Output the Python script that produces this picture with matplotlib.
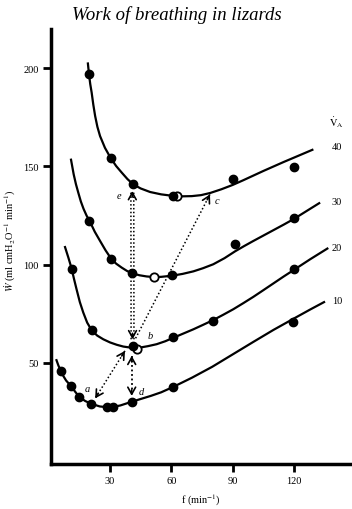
import matplotlib
matplotlib.use('Agg')
import matplotlib.pyplot as plt
import numpy as np

plt.rcParams['font.family'] = ['Liberation Serif', 'DejaVu Serif']
plt.rcParams['mathtext.fontset'] = 'stix'

# ---------------- data ----------------
va_labels = ['10', '20', '30', '40']

fit10_f = [3.6, 4.7, 5.9, 7.2, 8.5, 10.8, 13, 15, 17.8, 20.7, 25, 30, 35, 40.6, 45, 50, 55, 61, 70, 80, 90, 100, 110, 120, 128, 135.2]
fit10_w = [51.9, 48.7, 45.9, 43.2, 41, 38.3, 35.2, 32.6, 30.6, 29.2, 27.8, 27.3, 28.3, 30.2, 31.6, 33.2, 35, 37.8, 42.4, 48, 54.3, 60.6, 66.8, 72.6, 77.2, 81.2]
pts10_f = [5.9, 10.8, 15, 20.7, 28.5, 31.3, 40.6, 61, 119.7]
pts10_w = [45.9, 38.3, 32.6, 29.2, 27.3, 27.3, 30.2, 37.8, 70.9]

fit20_f = [7.8, 9.6, 11.2, 12.3, 13.6, 15.2, 16.9, 18.8, 21, 23.7, 26.7, 30, 33.3, 36.5, 39.8, 44.7, 48.5, 52.8, 57, 61, 65.8, 70.8, 75.6, 80.5, 85.4, 90.3, 95.2, 100.1, 105, 110, 115, 120.2, 128, 136.8]
fit20_w = [109.5, 103.6, 98, 93, 87.5, 81, 75.6, 70.5, 66.6, 63.9, 62, 60.4, 59.2, 58.3, 57.8, 57.8, 58.5, 59.5, 61, 62.8, 64.9, 67.1, 69.4, 71.8, 74.5, 77.3, 80.4, 83.6, 87, 90.5, 94, 97.5, 102.8, 108.5]
pts20_f = [11.2, 21, 41.4, 61, 80.5, 120.2]
pts20_w = [98, 66.6, 58.7, 63.4, 71.4, 98]
open20_f = [43.3]
open20_w = [57.3]

fit30_f = [10.8, 11.5, 12.2, 13.3, 14.5, 15.7, 17, 18.5, 20.2, 22.5, 25.1, 27.8, 30.5, 33, 35.7, 38.3, 40.9, 44.4, 47.9, 51.5, 55, 60.5, 65.5, 70.8, 75.5, 80.5, 86, 91.2, 95.5, 100, 105, 110, 115, 120, 126, 132.8]
fit30_w = [154, 150, 146, 141, 136.5, 132.2, 128.5, 125, 121.8, 116.8, 112.1, 107.3, 103.1, 100.5, 98.5, 96.8, 95.6, 94.6, 94, 93.7, 93.8, 94.4, 95.3, 96.6, 98.2, 100.2, 103.3, 106.8, 109.4, 112, 114.8, 117.6, 120.4, 123.3, 127.2, 131.6]
pts30_f = [19.9, 30.5, 40.9, 60.5, 91.2, 120]
pts30_w = [122.2, 103.1, 95.6, 94.6, 110.4, 123.6]
open30_f = [51.7]
open30_w = [93.8]

fit40_f = [19.1, 19.7, 20.3, 21, 21.8, 22.7, 23.8, 25.1, 27.5, 30.3, 33, 35.7, 38.5, 41.3, 45, 49.6, 55, 61, 65.5, 70, 74.5, 79, 84.5, 90, 95, 100, 105, 110, 115, 120, 129.5]
fit40_w = [203, 196.9, 192, 187.6, 181.5, 175.7, 170.2, 165.5, 159.5, 154.3, 150.2, 146.9, 143.6, 140.9, 138.8, 137, 135.8, 135, 134.8, 134.9, 135.4, 136.5, 138.4, 140.6, 142.9, 145.3, 147.7, 150, 152.3, 154.5, 158.7]
pts40_f = [19.7, 30.3, 41.3, 61, 90.3, 120.2]
pts40_w = [196.9, 154.3, 140.9, 135, 143.8, 149.9]
open40_f = [62.6]
open40_w = [135]

# transitions between states (f, W)
point_a = (22.7, 31.9)
point_b = (41.0, 60.0)
point_c = (78.9, 135.8)
point_d = (40.6, 33.2)
point_e = (40.9, 137.5)

# ---------------- figure ----------------
fig = plt.figure(figsize=(3.52, 5.10), dpi=100)
ax = fig.add_axes([51/352, 45/510, 301/352, 435/510])
ax.set_xlim(1.1, 148.4)
ax.set_ylim(-1.5, 220)

lw = 1.6
for ff, ww in [(fit10_f, fit10_w), (fit20_f, fit20_w), (fit30_f, fit30_w), (fit40_f, fit40_w)]:
    ax.plot(ff, ww, color='black', lw=lw, solid_capstyle='butt', solid_joinstyle='round', zorder=2)

for of, ow in [(open20_f, open20_w), (open30_f, open30_w), (open40_f, open40_w)]:
    ax.plot(of, ow, 'o', ms=6, mfc='white', mec='black', mew=1.3, zorder=3)
for pf, pw in [(pts10_f, pts10_w), (pts20_f, pts20_w), (pts30_f, pts30_w), (pts40_f, pts40_w)]:
    ax.plot(pf, pw, 'o', ms=6, color='black', zorder=4)

# dotted transition lines with open arrowheads
def head(tip, frm):
    p1 = ax.transData.transform(tip)
    p0 = ax.transData.transform(frm)
    d = p1 - p0
    d = d / np.hypot(*d)
    off = -d * 6 * 72 / fig.dpi
    ax.annotate('', xy=tip, xytext=(off[0], off[1]), textcoords='offset points',
                arrowprops=dict(arrowstyle='->,head_length=0.5,head_width=0.28',
                                lw=1.2, color='black', shrinkA=0, shrinkB=0), zorder=5)

def dotted(p, q, lw_=1.1):
    ax.plot([p[0], q[0]], [p[1], q[1]], color='black', lw=lw_, ls=(0, (1, 1.5)), zorder=5)

# b <-> e (two parallel lines)
dotted((point_b[0] - 0.7, point_b[1] + 2), (point_e[0] - 0.7, point_e[1]))
dotted((point_b[0] + 0.7, point_b[1] + 2), (point_e[0] + 0.7, point_e[1]))
head(point_e, (point_e[0], point_b[1]))
head((point_b[0], point_b[1] + 2), (point_b[0], point_e[1]))
# b -> c
bc0 = (point_b[0] + 1.5, point_b[1] + 2.5)
dotted(bc0, point_c)
head(point_c, bc0)
# b <-> a
ba0 = (point_b[0] - 3.7, point_b[1] - 3.9)
dotted(ba0, point_a)
head(point_a, ba0)
head(ba0, point_a)
# b <-> d
bd0 = (point_d[0], point_b[1] - 6.4)
dotted(bd0, point_d, 1.3)
head(point_d, bd0)
head(bd0, point_d)

lab = dict(fontsize=7.5, style='italic', ha='center', va='center')
ax.text(19.0, 37.0, 'a', **lab)
ax.text(49.6, 63.7, 'b', **lab)
ax.text(82.4, 132.5, 'c', **lab)
ax.text(45.5, 35.3, 'd', **lab)
ax.text(34.6, 135.0, 'e', **lab)

# curve labels
ax.text(141, 173, r'$\dot{\mathrm{V}}_{\mathrm{A}}$', fontsize=7.5, ha='center', va='center')
for txt, yy in zip(va_labels, [81.9, 108.7, 132.4, 160.2]):
    ax.text(141, yy, txt, fontsize=7.5, ha='center', va='center')

# axes styling
for s in ['top', 'right']:
    ax.spines[s].set_visible(False)
for s in ['left', 'bottom']:
    ax.spines[s].set_linewidth(2.5)
ax.set_xticks([30, 60, 90, 120])
ax.set_yticks([50, 100, 150, 200])
ax.tick_params(direction='out', length=6, width=2, labelsize=7.5, pad=3)

fig.text(177/352, 1 - 15/510, 'Work of breathing in lizards', style='italic',
         fontsize=13.5, ha='center', va='center')
fig.text(10/352, 1 - 241/510, r'$\dot{W}$ (ml cmH$_2$O$^{-1}$ min$^{-1}$)',
         rotation=90, fontsize=7.5, ha='center', va='center')
fig.text(201/352, 1 - 493/510, r'f (min$^{-1}$)', fontsize=7.5, ha='center', va='top')

fig.savefig('out.png', dpi=100)
